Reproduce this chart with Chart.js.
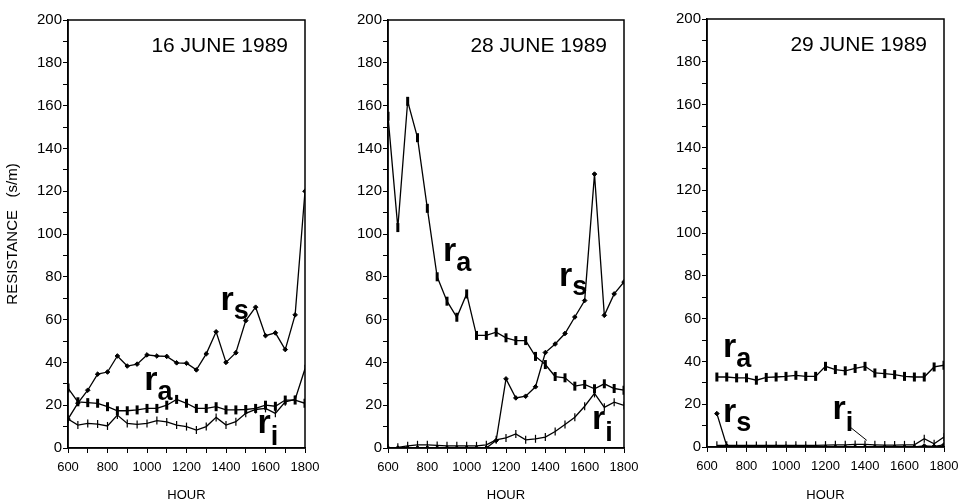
<!DOCTYPE html>
<html><head><meta charset="utf-8">
<script src="https://cdn.jsdelivr.net/npm/chart.js@4/dist/chart.umd.min.js"></script>
<style>
html,body{margin:0;padding:0;background:#fff;width:963px;height:503px;overflow:hidden}
canvas{position:absolute;top:0}
</style></head><body>
<canvas id="c1" width="321" height="503" style="left:0"></canvas>
<canvas id="c2" width="321" height="503" style="left:321px"></canvas>
<canvas id="c3" width="321" height="503" style="left:642px"></canvas>
<script>
// ---- data ----
const hours = [600,650,700,750,800,850,900,950,1000,1050,1100,1150,1200,1250,1300,1350,1400,1450,1500,1550,1600,1650,1700,1750,1800];
const xTickLabels = [600,800,1000,1200,1400,1600,1800];
const yTickLabels = [0,20,40,60,80,100,120,140,160,180,200];
const panelTitles = ['16 JUNE 1989','28 JUNE 1989','29 JUNE 1989'];

const june16_rs = [13.5,21,27,34.5,35.5,43,38.3,39.2,43.5,43,42.8,39.8,39.6,36.5,44,54.3,40,44.5,59.5,65.8,52.5,53.8,46,62.2,120];
const june16_ra = [28,21.6,21.2,20.9,19.3,17.4,17.4,17.8,18.5,18.5,20,22.7,20.9,18.5,18.5,19.3,17.8,17.8,18,18.5,20,19.5,22.4,22.4,20.9];
const june16_ri = [13.5,10.7,11.5,11.2,10.3,15.4,11.5,11,11.5,12.8,12.2,10.7,10,8.4,10,14.3,10.7,12.3,16.2,18,18.5,16.2,21.6,22.7,37];

const june28_rs = [0,0,0,0,0,0,0,0,0,0,0,3.5,32.3,23.4,24.2,28.6,44.6,48.6,53.5,61.2,68.9,128,62,72,77.6];
const june28_ra = [155,103,162,145,112,80,68.6,61.1,72,52.6,52.6,54.1,51.5,50.2,50.2,42.8,39,33.4,32.8,28.9,29.7,27.7,30,27.8,27];
const june28_ri = [0,0.3,1,1.5,1.5,1.2,1,1,1,1,1.5,3.8,4.7,6.6,3.8,4.3,5.1,7.7,11,14.4,19.5,25.5,19,21.4,19.9];

const june29_rs = [null,15.6,0.5,0,0,0,0,0,0,0,0,0,0,0,0,0,0,0,0,0,0,0,0.5,0.3,1];
const june29_ra = [null,32.7,32.7,32.3,32.3,31.2,32.5,32.7,33,33.5,33,33,37.7,36.2,35.6,36.7,37.7,34.6,34.3,33.8,33,32.7,32.7,37.4,38.2];
const june29_ri = [null,0.8,0.8,0.8,0.8,0.7,0.8,0.8,0.8,0.8,0.8,0.8,0.9,1,1,1.2,1.2,1,0.9,0.9,1,1,3.9,1.5,4.7];

// ---- annotation placement (data coordinates) ----
const notes = [
  [{sub:'s',x:1372,y:64.6,drop:9},{sub:'a',x:986,y:27.3,drop:10},{sub:'i',x:1560,y:7,drop:12}],
  [{sub:'a',x:880,y:87.6,drop:10},{sub:'s',x:1470,y:75.9,drop:9},{sub:'i',x:1637,y:9,drop:12}],
  [{sub:'a',x:681,y:42,drop:10},{sub:'s',x:681,y:11.7,drop:9},{sub:'i',x:1236,y:13.3,drop:12}]
];
const leaders = [[],[],[[1314,10.1,1409,3.1]]];

const FONT = '"Liberation Sans", Arial, Helvetica, sans-serif';

function pts(arr){ return hours.map((h,i)=>({x:h,y:arr[i]})); }

function decorPlugin(idx){
  return {
    id:'decor'+idx,
    afterDatasetsDraw(chart){
      const {ctx, chartArea:a, scales:{x,y}} = chart;
      ctx.save();
      ctx.strokeStyle='#000'; ctx.lineWidth=1.5;
      ctx.strokeRect(a.left,a.top,a.right-a.left,a.bottom-a.top);
      ctx.fillStyle='#000';
      ctx.font='21px '+FONT; ctx.textAlign='right'; ctx.textBaseline='alphabetic';
      ctx.fillText(panelTitles[idx], a.right-17, a.top+32);
      ctx.textAlign='left';
      notes[idx].forEach(n=>{
        const px=x.getPixelForValue(n.x), py=y.getPixelForValue(n.y);
        ctx.font='bold 34px '+FONT;
        ctx.fillText('r',px,py);
        const w=ctx.measureText('r').width;
        ctx.font='bold 27px '+FONT;
        ctx.fillText(n.sub,px+w,py+n.drop);
      });
      ctx.lineWidth=1;
      leaders[idx].forEach(l=>{
        ctx.beginPath();
        ctx.moveTo(x.getPixelForValue(l[0]),y.getPixelForValue(l[1]));
        ctx.lineTo(x.getPixelForValue(l[2]),y.getPixelForValue(l[3]));
        ctx.stroke();
      });
      ctx.restore();
    }
  };
}

function makeChart(id, idx, rs, ra, ri, opts){
  const base = {borderColor:'#000',backgroundColor:'#000',pointBackgroundColor:'#000',pointBorderColor:'#000',borderWidth:1.3,tension:0,fill:false,spanGaps:true};
  new Chart(document.getElementById(id),{
    type:'line',
    data:{datasets:[
      Object.assign({label:'rs',data:pts(rs),pointStyle:'rectRot',pointRadius:2.3,pointBorderWidth:1},base),
      Object.assign({label:'ra',data:pts(ra),pointStyle:'line',pointRotation:90,pointRadius:4.5,pointBorderWidth:3},base),
      Object.assign({label:'ri',data:pts(ri),pointStyle:'line',pointRotation:90,pointRadius:4,pointBorderWidth:1.2},base)
    ]},
    options:{
      responsive:false, animation:false, events:[],
      layout:{padding:{top:opts.top,right:opts.right,bottom:0,left:0}},
      plugins:{legend:{display:false},tooltip:{enabled:false}},
      scales:{
        x:{type:'linear',min:600,max:1800,
          afterFit(s){s.height=opts.xh;s.paddingLeft=0;s.paddingRight=0;},
          afterBuildTicks(s){s.ticks=[];for(let v=600;v<=1800;v+=100)s.ticks.push({value:v});},
          ticks:{autoSkip:false,maxRotation:0,minRotation:0,color:'#000',padding:7,font:{family:FONT,size:13},
            callback:v=>xTickLabels.includes(v)?String(v):''},
          grid:{drawOnChartArea:false,tickLength:5,color:'#000',tickWidth:1},
          border:{color:'#000',width:1.5},
          title:{display:true,text:'HOUR',color:'#000',font:{family:FONT,size:13},padding:{top:0,bottom:0}}
        },
        y:{min:0,max:200,
          afterFit(s){s.width=opts.yw;s.paddingTop=0;s.paddingBottom=0;},
          afterBuildTicks(s){s.ticks=[];for(let v=0;v<=200;v+=10)s.ticks.push({value:v});},
          ticks:{autoSkip:false,color:'#000',padding:1,font:{family:FONT,size:15},
            callback:v=>yTickLabels.includes(v)?String(v):''},
          grid:{drawOnChartArea:false,tickLength:5,color:'#000',tickWidth:1},
          border:{color:'#000',width:1.5},
          title:{display:opts.ytitle,text:'RESISTANCE   (s/m)',color:'#000',font:{family:FONT,size:15},padding:{top:4,bottom:0}}
        }
      }
    },
    plugins:[decorPlugin(idx)]
  });
}

makeChart('c1',0,june16_rs,june16_ra,june16_ri,{top:20,right:16,yw:68,xh:55,ytitle:true});
makeChart('c2',1,june28_rs,june28_ra,june28_ri,{top:20,right:18,yw:67,xh:55,ytitle:false});
makeChart('c3',2,june29_rs,june29_ra,june29_ri,{top:19,right:19,yw:65,xh:56,ytitle:false});
</script>
</body></html>
